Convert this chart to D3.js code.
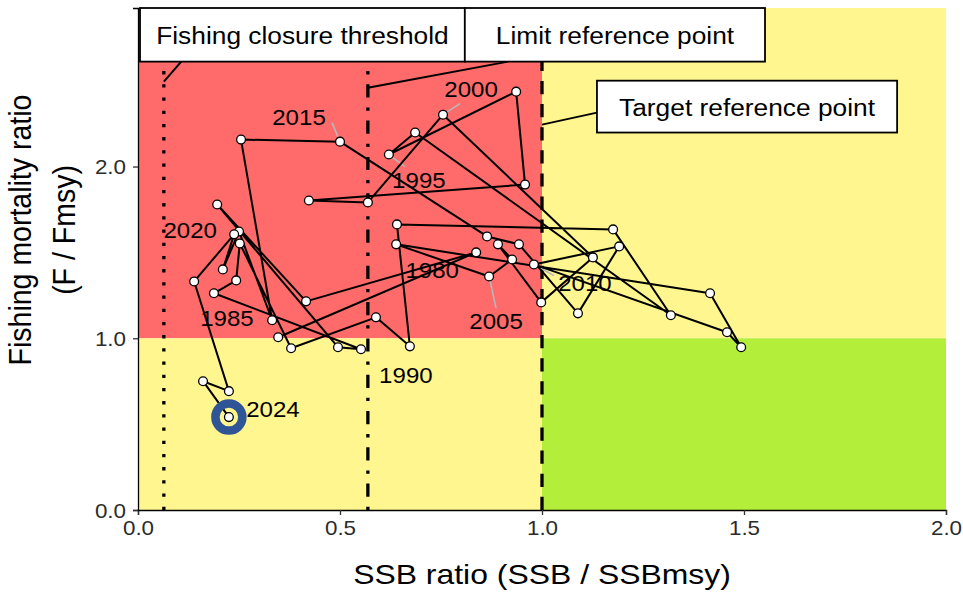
<!DOCTYPE html>
<html>
<head>
<meta charset="utf-8">
<script src="https://cdn.jsdelivr.net/npm/d3@7"></script>
<style>
  html, body { margin: 0; padding: 0; background: #ffffff; }
  svg { display: block; font-family: "Liberation Sans", Arial, Helvetica, sans-serif; }
</style>
</head>
<body>
<svg id="chart" width="963" height="593"></svg>
<script>
// ---- Stock trajectory: SSB / SSBmsy and F / Fmsy by year ----
const years = [1979, 1980, 1981, 1982, 1983, 1984, 1985, 1986, 1987, 1988,
               1989, 1990, 1991, 1992, 1993, 1994, 1995, 1996, 1997, 1998,
               1999, 2000, 2001, 2002, 2003, 2004, 2005, 2006, 2007, 2008,
               2009, 2010, 2011, 2012, 2013, 2014, 2015, 2016, 2017, 2018,
               2019, 2020, 2021, 2022, 2023, 2024];
const ssbRatio = [0.347, 0.837, 0.416, 0.196, 0.495, 0.552, 0.188, 0.243, 0.252, 0.379,
                  0.589, 0.673, 0.641, 1.176, 1.319, 0.686, 0.621, 0.936, 0.958, 0.423,
                  0.569, 0.755, 1.126, 0.998, 0.891, 0.926, 0.869, 0.639, 1.416, 1.493,
                  1.458, 0.980, 1.191, 1.089, 0.943, 0.864, 0.500, 0.255, 0.332, 0.250,
                  0.210, 0.238, 0.139, 0.225, 0.161, 0.225];
const fRatio   = [1.006, 1.500, 1.215, 1.779, 0.948, 0.936, 1.262, 1.337, 1.552, 0.942,
                  1.122, 0.953, 1.663, 1.634, 1.134, 2.198, 2.070, 2.436, 1.895, 1.802,
                  1.791, 2.302, 1.471, 1.209, 1.547, 1.459, 1.360, 1.547, 1.262, 0.948,
                  1.035, 1.430, 1.535, 1.145, 1.547, 1.593, 2.145, 2.157, 1.105, 1.622,
                  1.401, 1.605, 1.331, 0.692, 0.750, 0.541];

// years that carry a text label
const labelYears = [1980, 1985, 1990, 1995, 2000, 2005, 2010, 2015, 2020, 2024];

// reference points on the SSB ratio axis
const refNames  = ["Fishing closure threshold", "Limit reference point", "Target reference point"];
const refValues = [0.064, 0.569, 1.0];

// axis ticks
const xTicks = [0, 0.5, 1.0, 1.5, 2.0];
const yTicks = [0, 1.0, 2.0];

// ---- layout ----
const W = 963, H = 593;
const margin = { top: 8, right: 17, bottom: 83, left: 138 };
const xMax = 2.0;
const yMax = d3.max(fRatio) * 1.2;
const SX = 1.12;               // horizontal text stretch

const x = d3.scaleLinear().domain([0, xMax]).range([margin.left, W - margin.right]);
const y = d3.scaleLinear().domain([0, yMax]).range([H - margin.bottom, margin.top]);

const svg = d3.select("#chart");

// text placed at (px, py) with a slight horizontal stretch
function label(parent, px, py, str, size, anchor, baseline) {
  return parent.append("text")
    .attr("transform", `translate(${px},${py}) scale(${SX},1)`)
    .attr("text-anchor", anchor || "middle")
    .attr("dominant-baseline", baseline || "auto")
    .style("font-size", size + "px")
    .attr("fill", "#000")
    .text(str);
}

// ---- status zones ----
const RED = "#FF6A6A", YELLOW = "#FFF68F", GREEN = "#B3EE3A";
const zones = [
  { x0: 0, x1: 1, y0: 1, y1: yMax, fill: RED },
  { x0: 0, x1: 1, y0: 0, y1: 1,    fill: YELLOW },
  { x0: 1, x1: xMax, y0: 1, y1: yMax, fill: YELLOW },
  { x0: 1, x1: xMax, y0: 0, y1: 1, fill: GREEN }
];
svg.append("g").selectAll("rect").data(zones).join("rect")
  .attr("x", d => x(d.x0))
  .attr("y", d => y(d.y1))
  .attr("width", d => x(d.x1) - x(d.x0))
  .attr("height", d => y(d.y0) - y(d.y1))
  .attr("fill", d => d.fill);

// ---- reference lines (drawn bottom to top so dash patterns start at the axis) ----
const lw = 3.3;
const refDash = [
  `${lw} ${lw * 3}`,                          // dotted
  `${lw} ${lw * 3} ${lw * 4} ${lw * 3}`,      // dot-dash
  `${lw * 4} ${lw * 3}`                       // dashed
];
svg.append("g").selectAll("line").data(refValues).join("line")
  .attr("x1", d => x(d)).attr("x2", d => x(d))
  .attr("y1", y(0)).attr("y2", y(yMax))
  .attr("stroke", "#000")
  .attr("stroke-width", lw)
  .attr("stroke-linecap", "butt")
  .attr("stroke-dasharray", (d, i) => refDash[i]);

// ---- axes ----
const fmt = d3.format(".1f");
const gx = svg.append("g")
  .attr("transform", `translate(0,${y(0)})`)
  .call(d3.axisBottom(x).tickValues(xTicks).tickFormat(fmt).tickSizeOuter(0).tickSize(5));
const gy = svg.append("g")
  .attr("transform", `translate(${x(0)},0)`)
  .call(d3.axisLeft(y).tickValues(yTicks).tickFormat(fmt).tickSizeOuter(0).tickSize(5));
[gx, gy].forEach(g => {
  g.select(".domain").attr("stroke", "#000").attr("stroke-width", 1.3);
  g.selectAll(".tick line").attr("stroke", "#333").attr("stroke-width", 1.3);
  g.selectAll(".tick text")
    .attr("fill", "#2b2b2b")
    .style("font-size", "20px")
    .style("font-family", "'Liberation Sans', Arial, sans-serif");
});
gx.selectAll(".tick text")
  .attr("y", 0).attr("dy", null)
  .attr("dominant-baseline", "central")
  .attr("transform", `translate(0,18) scale(${SX},1)`);
gy.selectAll(".tick text")
  .attr("x", 0).attr("dy", null)
  .attr("dominant-baseline", "central")
  .attr("transform", `translate(-12,0) scale(${SX},1)`);

// axis titles
label(svg, (x(0) + x(xMax)) / 2, 584, "SSB ratio (SSB / SSBmsy)", 28.5);
[["Fishing mortality ratio", 31], ["(F / Fmsy)", 75]].forEach(([str, bx]) => {
  svg.append("text")
    .attr("transform", `translate(${bx},230) scale(${SX},1) rotate(-90)`)
    .attr("text-anchor", "middle")
    .style("font-size", "28.5px").attr("fill", "#000")
    .text(str);
});

// ---- trajectory ----
const pts = years.map((yr, i) => ({ year: yr, s: ssbRatio[i], f: fRatio[i] }));

// label offsets from their point (pixels); sx/sy mark the end of a grey leader
const labelPlace = {
  1980: { dx: -44, dy: 18 },
  1985: { dx: 13,  dy: 25 },
  1990: { dx: -4,  dy: 29 },
  1995: { dx: 30,  dy: 26, sx: 16, sy: 12 },
  2000: { dx: 28,  dy: -25, sx: 17, sy: -11 },
  2005: { dx: 7,   dy: 45, sx: 7,  sy: 32 },
  2010: { dx: 51,  dy: 19, sx: 20, sy: 11 },
  2015: { dx: -41, dy: -24, sx: -8, sy: -19 },
  2020: { dx: -44, dy: -4 },
  2024: { dx: 44,  dy: -8 }
};
const labelled = pts.filter(p => labelYears.includes(p.year));

svg.append("g").selectAll("line").data(labelled.filter(p => labelPlace[p.year].sx !== undefined)).join("line")
  .attr("x1", p => x(p.s)).attr("y1", p => y(p.f))
  .attr("x2", p => x(p.s) + labelPlace[p.year].sx)
  .attr("y2", p => y(p.f) + labelPlace[p.year].sy)
  .attr("stroke", "#b8b8b8").attr("stroke-width", 1.6);

svg.append("path")
  .datum(pts)
  .attr("fill", "none")
  .attr("stroke", "#000")
  .attr("stroke-width", 2)
  .attr("stroke-linejoin", "round")
  .attr("d", d3.line().x(p => x(p.s)).y(p => y(p.f)));

// latest year highlight ring
const last = pts[pts.length - 1];
svg.append("circle")
  .attr("cx", x(last.s)).attr("cy", y(last.f)).attr("r", 13.5)
  .attr("fill", "none").attr("stroke", "#2F5597").attr("stroke-width", 8.5);

svg.append("g").selectAll("circle").data(pts).join("circle")
  .attr("cx", p => x(p.s)).attr("cy", p => y(p.f)).attr("r", 4.4)
  .attr("fill", "#fff").attr("stroke", "#000").attr("stroke-width", 1.3);

const gYear = svg.append("g");
labelled.forEach(p => {
  const o = labelPlace[p.year];
  label(gYear, x(p.s) + o.dx, y(p.f) + o.dy, p.year, 21.5, "middle", "central");
});

// ---- reference point labels with leader lines ----
// box extents in data units, leader start in data units
const refBoxes = [
  { x0: 0.005, x1: 0.809, y0: 2.611, y1: yMax, lx: 0.107, ly: 2.611, ty: 2.494 },
  { x0: 0.809, x1: 1.552, y0: 2.611, y1: yMax, lx: 0.916, ly: 2.611, ty: 2.459 },
  { x0: 1.136, x1: 1.879, y0: 2.198, y1: 2.500, lx: 1.136, ly: 2.314, ty: 2.244 }
];
const gRef = svg.append("g");
refNames.forEach((name, i) => {
  const b = refBoxes[i];
  gRef.append("line")
    .attr("x1", x(b.lx)).attr("y1", y(b.ly))
    .attr("x2", x(refValues[i])).attr("y2", y(b.ty))
    .attr("stroke", "#000").attr("stroke-width", 2);
});
refNames.forEach((name, i) => {
  const b = refBoxes[i];
  gRef.append("rect")
    .attr("x", x(b.x0)).attr("y", y(b.y1))
    .attr("width", x(b.x1) - x(b.x0)).attr("height", y(b.y0) - y(b.y1))
    .attr("fill", "#fff").attr("stroke", "#000").attr("stroke-width", 1.8);
  label(gRef, (x(b.x0) + x(b.x1)) / 2, (y(b.y0) + y(b.y1)) / 2 + 1, name, 23.5, "middle", "central");
});
</script>
</body>
</html>
